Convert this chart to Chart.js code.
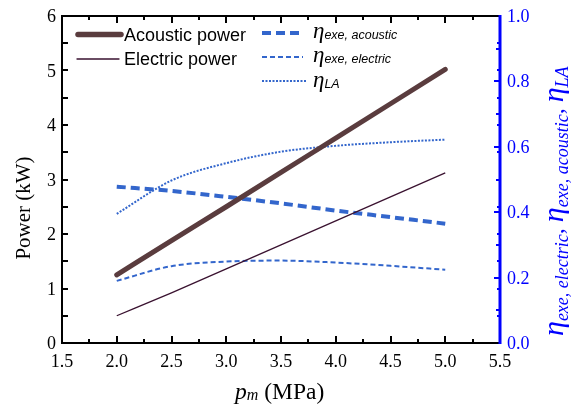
<!DOCTYPE html>
<html>
<head>
<meta charset="utf-8">
<script src="https://cdn.jsdelivr.net/npm/chart.js@4.4.1/dist/chart.umd.min.js"></script>
<style>
  html, body { margin: 0; padding: 0; background: #fff; }
  #wrap { width: 571px; height: 408px; }
</style>
</head>
<body>
<div id="wrap"><canvas id="chart"></canvas></div>
<script>
// values
const pm = [2.0, 2.5, 3.0, 3.5, 4.0, 4.5, 5.0];
const acousticPower = [1.25, 1.88, 2.5, 3.13, 3.76, 4.39, 5.02];
const electricPower = [0.5, 0.92, 1.36, 1.8, 2.24, 2.68, 3.12];
const etaExeAcoustic = [0.478, 0.465, 0.447, 0.427, 0.405, 0.385, 0.365];
const etaExeElectric = [0.19, 0.235, 0.249, 0.252, 0.246, 0.236, 0.224];
const etaLA = [0.395, 0.497, 0.55, 0.585, 0.603, 0.614, 0.622];

const xTicks = ['1.5', '2.0', '2.5', '3.0', '3.5', '4.0', '4.5', '5.0', '5.5'];
const powerTicks = ['0', '1', '2', '3', '4', '5', '6'];
const etaTicks = ['0.0', '0.2', '0.4', '0.6', '0.8', '1.0'];

const BLUE = '#3366cc';
const AXIS_BLUE = '#0000ff';
const SERIF = '"Liberation Serif", "Times New Roman", serif';
const SANS = '"Liberation Sans", Arial, sans-serif';

const pts = ys => pm.map((x, i) => ({ x: x, y: ys[i] }));

// draws a run of text pieces: [text, font, dy]
function drawRuns(ctx, runs, x, y) {
  runs.forEach(r => {
    ctx.font = r[1];
    ctx.fillText(r[0], x, y + (r[2] || 0));
    x += ctx.measureText(r[0]).width;
  });
  return x;
}
function runsWidth(ctx, runs) {
  let w = 0;
  runs.forEach(r => { ctx.font = r[1]; w += ctx.measureText(r[0]).width; });
  return w;
}

const frame = {
  id: 'frame',
  afterDraw(chart) {
    const ctx = chart.ctx;
    const a = chart.chartArea;
    const xs = chart.scales.x, yl = chart.scales.yL, yr = chart.scales.yR;
    ctx.save();
    ctx.lineCap = 'butt';

    // ticks, bottom and top
    ctx.strokeStyle = '#000';
    ctx.lineWidth = 2;
    for (let v = 1.5; v <= 5.5001; v += 0.25) {
      const px = Math.round(xs.getPixelForValue(v));
      const len = Math.abs((v * 2) % 1) < 0.01 ? 7 : 4;
      ctx.beginPath();
      ctx.moveTo(px, a.bottom); ctx.lineTo(px, a.bottom - len);
      ctx.moveTo(px, a.top); ctx.lineTo(px, a.top + len);
      ctx.stroke();
    }
    // left ticks
    for (let v = 0; v <= 6.001; v += 0.5) {
      const py = Math.round(yl.getPixelForValue(v));
      ctx.beginPath();
      ctx.moveTo(a.left, py); ctx.lineTo(a.left + 6, py);
      ctx.stroke();
    }
    // right ticks
    ctx.strokeStyle = AXIS_BLUE;
    for (let v = 0; v <= 1.0001; v += 0.1) {
      const py = Math.round(yr.getPixelForValue(v));
      const len = Math.round(v * 10) % 2 === 0 ? 6 : 4;
      ctx.beginPath();
      ctx.moveTo(a.right, py); ctx.lineTo(a.right - len, py);
      ctx.stroke();
    }
    for (let v = 0.5; v <= 5.501; v += 0.5) {
      const py = Math.round(yl.getPixelForValue(v));
      ctx.beginPath();
      ctx.moveTo(a.right, py); ctx.lineTo(a.right - 3, py);
      ctx.stroke();
    }

    // frame
    ctx.strokeStyle = '#000';
    ctx.lineWidth = 2;
    ctx.beginPath();
    ctx.moveTo(a.right, a.top); ctx.lineTo(a.left, a.top);
    ctx.lineTo(a.left, a.bottom); ctx.lineTo(a.right, a.bottom);
    ctx.stroke();
    ctx.strokeStyle = AXIS_BLUE;
    ctx.lineWidth = 3;
    ctx.beginPath();
    ctx.moveTo(a.right, a.top - 1); ctx.lineTo(a.right, a.bottom + 1);
    ctx.stroke();

    // tick labels
    ctx.fillStyle = '#000';
    ctx.font = '18px ' + SERIF;
    ctx.textAlign = 'center';
    ctx.textBaseline = 'alphabetic';
    xTicks.forEach(t => ctx.fillText(t, xs.getPixelForValue(parseFloat(t)), 367));
    ctx.textAlign = 'right';
    powerTicks.forEach(t => ctx.fillText(t, a.left - 6, yl.getPixelForValue(parseFloat(t)) + 6));
    ctx.textAlign = 'left';
    ctx.fillStyle = AXIS_BLUE;
    etaTicks.forEach(t => ctx.fillText(t, a.right + 7, yr.getPixelForValue(parseFloat(t)) + 6));

    // axis titles
    ctx.fillStyle = '#000';
    ctx.textAlign = 'left';
    const xt = [['p', 'italic 23.5px ' + SERIF], ['m', 'italic 16px ' + SERIF, 1], [' (MPa)', '23.5px ' + SERIF]];
    drawRuns(ctx, xt, 235, 399);

    ctx.save();
    ctx.translate(30, 208);
    ctx.rotate(-Math.PI / 2);
    ctx.textAlign = 'center';
    ctx.font = '21px ' + SERIF;
    ctx.fillText('Power (kW)', 0, 0);
    ctx.restore();

    ctx.save();
    ctx.fillStyle = AXIS_BLUE;
    ctx.translate(563, 336);
    ctx.rotate(-Math.PI / 2);
    const eta = 'italic 30px ' + SERIF, sub = 'italic 18px ' + SERIF, norm = '24px ' + SERIF;
    drawRuns(ctx, [
      ['\u03b7', eta], ['exe, electric', sub, 5], [', ', norm],
      ['\u03b7', eta], ['exe, acoustic', sub, 5], [', ', norm],
      ['\u03b7', eta], ['LA', sub, 5]
    ], 0, 0);
    ctx.restore();

    // legend
    const seg = (x1, x2, y, color, w, dash) => {
      ctx.strokeStyle = color; ctx.lineWidth = w; ctx.setLineDash(dash);
      ctx.lineCap = dash.length ? 'butt' : 'round';
      ctx.beginPath(); ctx.moveTo(x1, y); ctx.lineTo(x2, y); ctx.stroke();
      ctx.setLineDash([]);
    };
    seg(78, 121, 34.5, '#5a3c3e', 5.5, []);
    seg(77, 119, 59, '#3a1230', 1.3, []);
    ctx.fillStyle = '#000';
    ctx.font = '18px ' + SANS;
    ctx.fillText('Acoustic power', 124, 41);
    ctx.fillText('Electric power', 124, 65);

    seg(262, 303, 33, BLUE, 4, [9, 5]);
    seg(262, 303, 57, BLUE, 2, [5, 3]);
    seg(262, 307, 81, BLUE, 2, [2, 1.5]);
    const leta = 'italic 23px ' + SERIF, lsub = 'italic 12.5px ' + SANS;
    drawRuns(ctx, [['\u03b7', leta], ['exe, acoustic', lsub, 1]], 313, 38);
    drawRuns(ctx, [['\u03b7', leta], ['exe, electric', lsub, 1]], 313, 62);
    drawRuns(ctx, [['\u03b7', leta], ['LA', lsub, 1]], 313, 87);
    ctx.restore();
  }
};

new Chart(document.getElementById('chart'), {
  type: 'line',
  data: {
    datasets: [
      { label: 'Acoustic power', data: pts(acousticPower), yAxisID: 'yL',
        borderColor: '#5a3c3e', borderWidth: 5, borderCapStyle: 'round' },
      { label: 'Electric power', data: pts(electricPower), yAxisID: 'yL',
        borderColor: '#3a1230', borderWidth: 1.3 },
      { label: 'eta exe, acoustic', data: pts(etaExeAcoustic), yAxisID: 'yR',
        borderColor: BLUE, borderWidth: 4, borderDash: [9, 5] },
      { label: 'eta exe, electric', data: pts(etaExeElectric), yAxisID: 'yR',
        borderColor: BLUE, borderWidth: 2, borderDash: [5, 3] },
      { label: 'eta LA', data: pts(etaLA), yAxisID: 'yR',
        borderColor: BLUE, borderWidth: 2, borderDash: [2, 1.5] }
    ]
  },
  options: {
    responsive: true,
    maintainAspectRatio: false,
    animation: false,
    layout: { padding: { left: 62, right: 71, top: 16, bottom: 65 } },
    elements: {
      point: { radius: 0 },
      line: { cubicInterpolationMode: 'monotone', fill: false }
    },
    plugins: { legend: { display: false }, tooltip: { enabled: false } },
    scales: {
      x: { type: 'linear', min: 1.5, max: 5.5, display: false },
      yL: { type: 'linear', position: 'left', min: 0, max: 6, display: false },
      yR: { type: 'linear', position: 'right', min: 0, max: 1, display: false }
    }
  },
  plugins: [frame]
});
</script>
</body>
</html>
